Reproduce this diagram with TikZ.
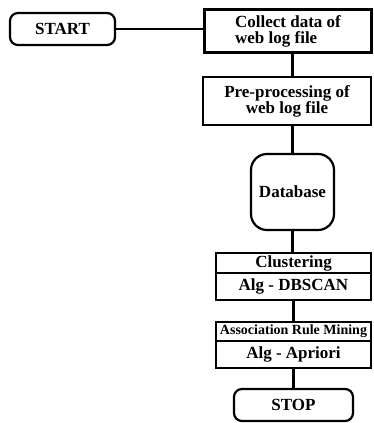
\documentclass[tikz,border=0pt]{standalone}
\usepackage{fontspec}
\setmainfont{Liberation Serif}

\begin{document}
\begin{tikzpicture}[
        x=1pt, y=-1pt,
        every node/.style={draw, line width=2.2pt, inner sep=0pt,
            font=\bfseries\fontsize{17}{16}\selectfont},
        term/.style={rounded corners=8pt, minimum width=105pt, minimum height=32pt},
        stepbox/.style={minimum width=167pt, minimum height=43pt},
        dbase/.style={rounded corners=16pt, minimum width=83pt, minimum height=76pt},
        head/.style={minimum width=155pt, minimum height=20pt},
        body/.style={minimum width=155pt, minimum height=27pt},
        link/.style={line width=2.6pt}
    ]
        \useasboundingbox (0,0) rectangle (373,423);

        % Flow boxes
        \node[term] (start) at (62.5,29) {START};
        \node[stepbox, align=left] (collect) at (288,31) {Collect data of\\web log file};
        \node[stepbox, minimum width=168pt, minimum height=48pt, align=center] (prep) at (287,101) {Pre-processing of\\web log file};
        \node[dbase] (db) at (292.5,192) {Database};

        % Clustering and association steps, header on top of body
        \node[head] (clust) at (293.5,263) {Clustering};
        \node[body] (dbscan) at (293.5,286.5) {Alg - DBSCAN};
        \node[head, minimum height=19pt, font=\bfseries\fontsize{14}{14}\selectfont] (assoc) at (293.5,331.5) {Association Rule Mining};
        \node[body] (apriori) at (293.5,354.5) {Alg - Apriori};
        \node[term, minimum width=119pt] (stop) at (293.5,405) {STOP};

        % Links between the steps
        \draw[link] (start.east) -- (start.east -| collect.west);
        \draw[link] (db.north |- collect.south) -- (db.north |- prep.north);
        \draw[link] (db.north |- prep.south) -- (db.north);
        \draw[link] (db.south) -- (db.south |- clust.north);
        \draw[link] (dbscan.south) -- (assoc.north);
        \draw[link] (apriori.south) -- (stop.north);
    \end{tikzpicture}
\end{document}
